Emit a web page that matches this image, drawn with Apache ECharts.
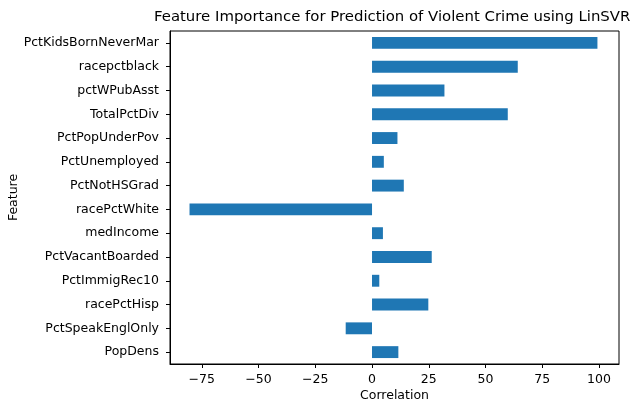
<!DOCTYPE html>
<html>
<head>
<meta charset="utf-8">
<script src="https://cdn.jsdelivr.net/npm/echarts@6/dist/echarts.min.js"></script>
<style>
  html, body { margin: 0; padding: 0; background: #fff; }
  #chart { width: 634px; height: 404px; }
</style>
</head>
<body>
<div id="chart"></div>
<script>
// Features listed top to bottom
const features = [
  'PctKidsBornNeverMar', 'racepctblack', 'pctWPubAsst', 'TotalPctDiv',
  'PctPopUnderPov', 'PctUnemployed', 'PctNotHSGrad', 'racePctWhite',
  'medIncome', 'PctVacantBoarded', 'PctImmigRec10', 'racePctHisp',
  'PctSpeakEnglOnly', 'PopDens'
];

// Model coefficient per feature (same order)
const correlation = [
  99.3, 64.2, 31.9, 59.8,
  11.2, 5.2, 14.0, -80.4,
  4.8, 26.3, 3.2, 24.8,
  -11.6, 11.6
];

// Tick values on the correlation axis
const correlationTicks = [-75, -50, -25, 0, 25, 50, 75, 100];

const FONT = 'DejaVu Sans';
const INK = '#000';

const chart = echarts.init(document.getElementById('chart'), null, { renderer: 'canvas' });

chart.setOption({
  animation: false,
  backgroundColor: '#fff',
  textStyle: { fontFamily: FONT, color: INK },
  title: {
    text: 'Feature Importance for Prediction of Violent Crime using LinSVR',
    left: 149,
    top: 5,
    textStyle: { fontFamily: FONT, fontSize: 14.9, fontWeight: 'normal', color: INK }
  },
  grid: {
    left: 170, right: 15, top: 31, bottom: 40,
    outerBoundsMode: 'none',
    containLabel: false,
    show: true, borderColor: INK, borderWidth: 1, backgroundColor: 'transparent'
  },
  xAxis: {
    type: 'value',
    min: -89,
    max: 108.8,
    name: 'Correlation',
    nameLocation: 'middle',
    nameGap: 25,
    nameMoveOverlap: false,
    nameTextStyle: { fontFamily: FONT, fontSize: 12.5, color: INK },
    splitLine: { show: false },
    axisLine: { show: true, onZero: false, lineStyle: { color: INK, width: 1 } },
    axisTick: {
      show: true, length: 4, inside: false,
      customValues: correlationTicks,
      lineStyle: { color: INK, width: 1 }
    },
    axisLabel: {
      show: true, margin: 9,
      fontFamily: FONT, fontSize: 12.5, color: INK,
      customValues: correlationTicks,
      formatter: v => String(v).replace('-', '\u2212')
    }
  },
  yAxis: {
    type: 'category',
    data: features,
    inverse: true,
    name: 'Feature',
    nameLocation: 'middle',
    nameRotate: 90,
    nameGap: 150,
    nameMoveOverlap: false,
    nameTextStyle: { fontFamily: FONT, fontSize: 12.5, color: INK },
    axisLine: { show: true, onZero: false, lineStyle: { color: INK, width: 1 } },
    axisTick: { show: true, alignWithLabel: true, length: 4, inside: false, lineStyle: { color: INK, width: 1 } },
    axisLabel: { margin: 11, fontFamily: FONT, fontSize: 12.5, color: INK, interval: 0 },
    splitLine: { show: false }
  },
  series: [{
    type: 'bar',
    data: correlation,
    barCategoryGap: '50%',
    itemStyle: { color: '#1f77b4' },
    silent: true
  }]
});
</script>
</body>
</html>
